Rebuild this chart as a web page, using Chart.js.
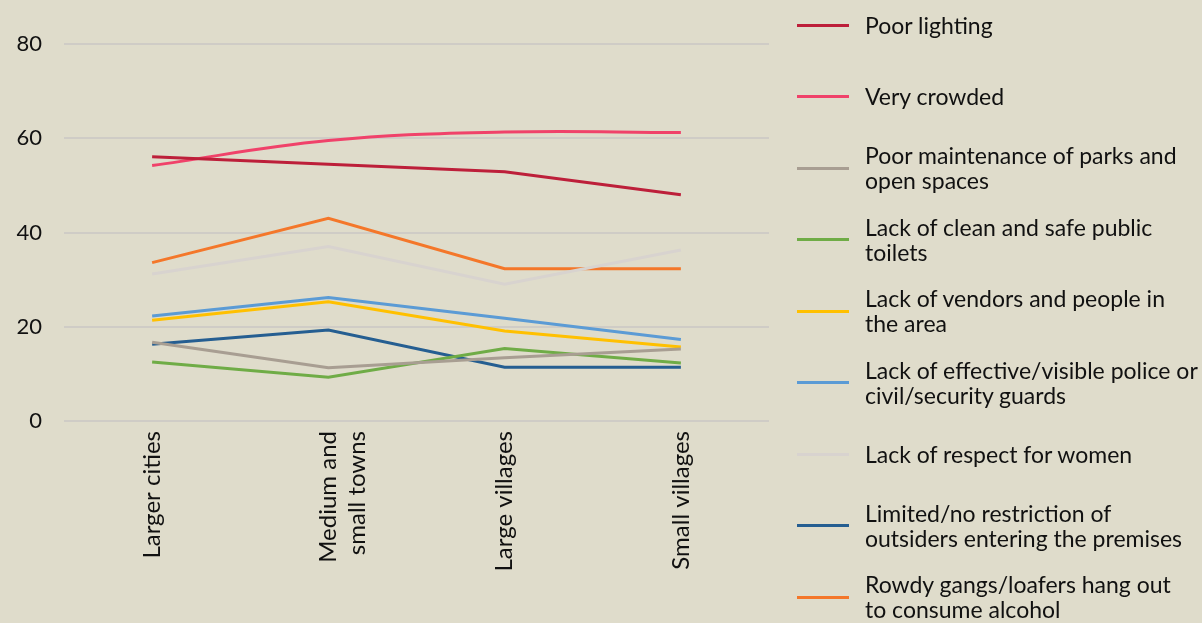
<!DOCTYPE html>
<html>
<head>
<meta charset="utf-8">
<script src="https://cdn.jsdelivr.net/npm/chart.js@4.4.1/dist/chart.umd.min.js"></script>
<style>
    body { margin: 0; background: #dfdccb; }
    #wrap { position: relative; width: 1202px; height: 623px; overflow: hidden; }
    #wrap canvas { position: absolute; left: 0; top: 0; }
    .legend-item {
        position: absolute; left: 797px; width: 405px; height: 72px;
        display: flex; align-items: center;
        font-family: Lato, sans-serif; font-size: 23px; line-height: 25px; color: #111;
    }
    .legend-item .swatch { width: 52px; height: 3px; flex: none; margin-right: 16px; }
</style>
</head>
<body>
<div id="wrap">
    <canvas id="lineChart" width="1202" height="623"></canvas>
</div>
<script>
// Categories along the x axis
const categories = ['Larger cities', ['Medium and', 'small towns'], 'Large villages', 'Small villages'];

// Series labels (legend) and values
const seriesNames = [
    'Poor lighting',
    'Very crowded',
    'Poor maintenance of parks and open spaces',
    'Lack of clean and safe public toilets',
    'Lack of vendors and people in the area',
    'Lack of effective/visible police or civil/security guards',
    'Lack of respect for women',
    'Limited/no restriction of outsiders entering the premises',
    'Rowdy gangs/loafers hang out to consume alcohol'
];
const legendLines = [
    ['Poor lighting'],
    ['Very crowded'],
    ['Poor maintenance of parks and', 'open spaces'],
    ['Lack of clean and safe public', 'toilets'],
    ['Lack of vendors and people in', 'the area'],
    ['Lack of effective/visible police or', 'civil/security guards'],
    ['Lack of respect for women'],
    ['Limited/no restriction of', 'outsiders entering the premises'],
    ['Rowdy gangs/loafers hang out', 'to consume alcohol']
];
const poorLighting = [56.1, 54.5, 52.9, 48.0];
const veryCrowded = [54.2, 59.5, 61.3, 61.2];
const poorMaintenance = [16.7, 11.3, 13.4, 15.3];
const cleanToilets = [12.5, 9.3, 15.4, 12.3];
const vendorsPeople = [21.4, 25.3, 19.1, 15.7];
const policeGuards = [22.3, 26.2, 21.8, 17.3];
const respectWomen = [31.2, 37.0, 29.0, 36.3];
const outsiders = [16.3, 19.3, 11.4, 11.4];
const rowdyGangs = [33.6, 43.0, 32.3, 32.3];

const yTicks = [0, 20, 40, 60, 80];

const seriesData = [poorLighting, veryCrowded, poorMaintenance, cleanToilets, vendorsPeople,
    policeGuards, respectWomen, outsiders, rowdyGangs];
const seriesColors = ['#bd1f3a', '#f0426a', '#a89e92', '#6fac46', '#ffc000',
    '#5b9bd5', '#d8d3cf', '#255e91', '#f4772a'];

const datasets = seriesNames.map((name, i) => ({
    label: name,
    data: seriesData[i],
    borderColor: seriesColors[i],
    backgroundColor: seriesColors[i],
    borderWidth: 3,
    pointRadius: 0,
    tension: i === 1 ? 0.4 : 0 // only the crowded line is smoothed
}));

const ctx = document.getElementById('lineChart').getContext('2d');
const lineChart = new Chart(ctx, {
    type: 'line',
    data: { labels: categories, datasets: datasets },
    options: {
        responsive: false,
        animation: false,
        layout: { padding: { top: 44, right: 433, left: 0, bottom: 0 } },
        scales: {
            x: {
                offset: true,
                grid: { display: false, drawTicks: false },
                border: { display: false },
                ticks: {
                    color: '#111',
                    font: { family: 'Lato', size: 24 },
                    maxRotation: 90,
                    minRotation: 90,
                    padding: 10,
                    autoSkip: false
                },
                afterFit: (scale) => { scale.height = 202; }
            },
            y: {
                min: 0,
                max: 80,
                afterBuildTicks: (scale) => { scale.ticks = yTicks.map(v => ({ value: v })); },
                grid: { color: '#cfccc6', lineWidth: 2, drawTicks: false },
                border: { display: false },
                ticks: {
                    color: '#111',
                    font: { family: 'Lato', size: 22 },
                    padding: 22
                },
                afterFit: (scale) => { scale.width = 64; }
            }
        },
        plugins: {
            legend: { display: false },
            tooltip: { enabled: false }
        }
    }
});

// Build the legend on the right as plain html
const wrap = document.getElementById('wrap');
legendLines.forEach((lines, i) => {
    const item = document.createElement('div');
    item.className = 'legend-item';
    item.style.top = (25.3 + i * 71.5 - 36) + 'px';
    const swatch = document.createElement('div');
    swatch.className = 'swatch';
    swatch.style.background = seriesColors[i];
    const text = document.createElement('div');
    text.innerHTML = lines.join('<br>');
    item.appendChild(swatch);
    item.appendChild(text);
    wrap.appendChild(item);
});
</script>
</body>
</html>
